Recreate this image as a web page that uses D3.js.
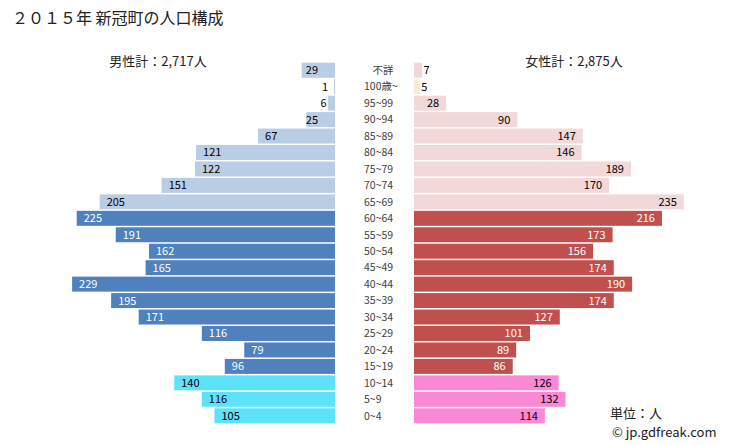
<!DOCTYPE html>
<html><head><meta charset="utf-8">
<script src="https://cdn.jsdelivr.net/npm/d3@7"></script>
<style>
body{margin:0;background:#fff;}
text{font-family:"Noto Sans CJK JP","Noto Sans",sans-serif;}
</style></head>
<body><svg id="c" width="729" height="445"></svg>
<script>
const categories = ["不詳","100歳~","95~99","90~94","85~89","80~84","75~79","70~74","65~69","60~64","55~59","50~54","45~49","40~44","35~39","30~34","25~29","20~24","15~19","10~14","5~9","0~4"];
const maleValues = [29,1,6,25,67,121,122,151,205,225,191,162,165,229,195,171,116,79,96,140,116,105];
const femaleValues = [7,5,28,90,147,146,189,170,235,216,173,156,174,190,174,127,101,89,86,126,132,114];
const titleText = "２０１５年 新冠町の人口構成";
const maleTotalText = "男性計：2,717人";
const femaleTotalText = "女性計：2,875人";
const unitText = "単位：人";
const creditText = "© jp.gdfreak.com";

function group(i){ if(i===0) return "unknown"; if(i===1) return "centenarian"; if(i<=8) return "elder"; if(i<=18) return "working"; return "child"; }
const maleColor = {unknown:"#b9cde5",centenarian:"#b9cde5",elder:"#b9cde5",working:"#4f81bd",child:"#5ee2fa"};
const femaleColor = {unknown:"#f2d8d9",centenarian:"#fde9d9",elder:"#f2d8d9",working:"#c0504d",child:"#f989d5"};
const textColor = {unknown:"#000",centenarian:"#000",elder:"#000",working:"#fff",child:"#000"};

const svg = d3.select("#c");
const y = d3.scaleBand().domain(d3.range(categories.length)).range([62,424]).paddingInner(0.09).paddingOuter(0.045);
const xL = d3.scaleLinear().domain([0,250]).range([335,335-287]);
const xR = d3.scaleLinear().domain([0,250]).range([414,414+287]);

svg.append("text").attr("x",12).attr("y",24).attr("font-size",16).attr("fill","#222").text(titleText);
svg.append("text").attr("x",158).attr("y",66).attr("font-size",13).attr("text-anchor","middle").attr("fill","#222").text(maleTotalText);
svg.append("text").attr("x",574).attr("y",66).attr("font-size",13).attr("text-anchor","middle").attr("fill","#222").text(femaleTotalText);
svg.append("text").attr("x",610).attr("y",418).attr("font-size",13).attr("fill","#222").text(unitText);
svg.append("text").attr("x",612).attr("y",437).attr("font-size",13).attr("fill","#222").text(creditText);

const rows = categories.map((c,i)=>({c,i,m:maleValues[i],f:femaleValues[i],g:group(i)}));

svg.selectAll("rect.m").data(rows).join("rect").attr("class","m")
  .attr("x",d=>xL(d.m)).attr("width",d=>xL(0)-xL(d.m))
  .attr("y",d=>y(d.i)).attr("height",y.bandwidth()).attr("fill",d=>maleColor[d.g]);
svg.selectAll("rect.f").data(rows).join("rect").attr("class","f")
  .attr("x",xR(0)).attr("width",d=>xR(d.f)-xR(0))
  .attr("y",d=>y(d.i)).attr("height",y.bandwidth()).attr("fill",d=>femaleColor[d.g]);

const fs = 11;
svg.selectAll("text.ml").data(rows).join("text").attr("class","ml")
  .attr("font-size",fs).attr("y",d=>y(d.i)+y.bandwidth()/2).attr("dy","0.36em")
  .text(d=>d.m)
  .each(function(d){
    const t=d3.select(this); const w=this.getComputedTextLength();
    const start=xL(d.m), width=xL(0)-start;
    if(width>w+12){
      const sx=Math.min(start+7, xL(0)-17-w);
      t.attr("x",sx).attr("text-anchor","start").attr("fill",textColor[d.g]);
    } else {
      t.attr("x",Math.min(start-1.5, xL(0)-7)).attr("text-anchor","end").attr("fill","#000");
    }
  });
svg.selectAll("text.fl").data(rows).join("text").attr("class","fl")
  .attr("font-size",fs).attr("y",d=>y(d.i)+y.bandwidth()/2).attr("dy","0.36em")
  .text(d=>d.f)
  .each(function(d){
    const t=d3.select(this); const w=this.getComputedTextLength();
    const end=xR(d.f), width=end-xR(0);
    if(width>w+12){
      t.attr("x",end-7).attr("text-anchor","end").attr("fill",textColor[d.g]);
    } else {
      t.attr("x",end+1.5).attr("text-anchor","start").attr("fill","#000");
    }
  });
svg.selectAll("text.cat").data(rows).join("text").attr("class","cat")
  .attr("font-size",10.5).attr("fill","#404040")
  .attr("x",d=>d.i===0?383:364).attr("text-anchor",d=>d.i===0?"middle":"start")
  .attr("y",d=>y(d.i)+y.bandwidth()/2).attr("dy","0.36em")
  .text(d=>d.c);
</script></body></html>
